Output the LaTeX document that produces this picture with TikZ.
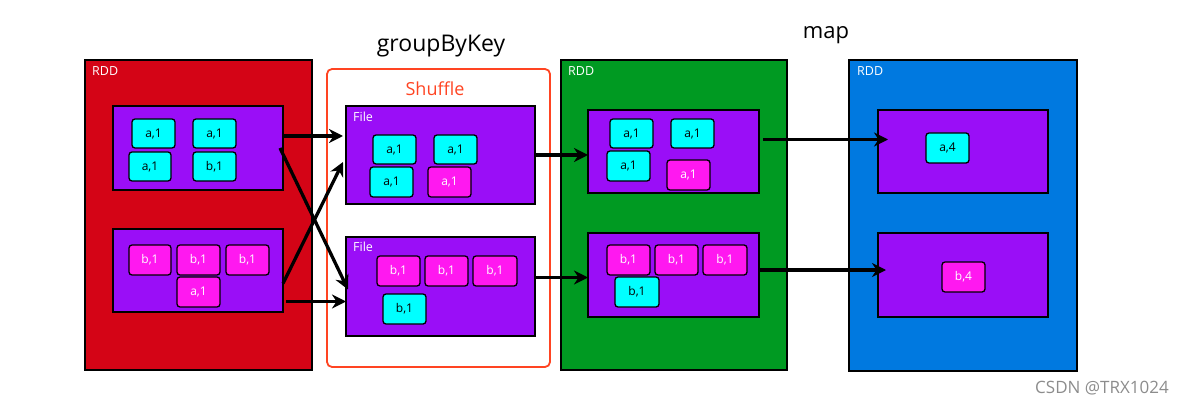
\documentclass[tikz,border=0pt]{standalone}
\usepackage{fontspec}
\setmainfont{Open Sans}
\usetikzlibrary{arrows.meta}
\definecolor{rddred}{HTML}{D40416}
\definecolor{rddgreen}{HTML}{009A22}
\definecolor{rddblue}{HTML}{0079E0}
\definecolor{part}{HTML}{9A0EF7}
\definecolor{kc}{HTML}{00FFFF}
\definecolor{km}{HTML}{FF18F0}
\definecolor{shuf}{HTML}{FF4422}
\newcommand\bx[7]{\node[#6, minimum width={#4-#2}, minimum height={#5-#3}] (#1) at ({(#2+#4)/2},{(#3+#5)/2}) {#7};}
\tikzset{
  rdd/.style={draw=black, line width=1.6pt, inner sep=0pt, outer sep=0pt},
  partbox/.style={draw=black, fill=part, line width=1.5pt, inner sep=0pt, outer sep=0pt},
  kvc/.style={draw=black, fill=kc, rounded corners=3pt, line width=1.3pt, inner sep=0pt, outer sep=0pt, font=\fontsize{12}{14}\selectfont, text=black},
  kvm/.style={draw=black, fill=km, rounded corners=3pt, line width=1.3pt, inner sep=0pt, outer sep=0pt, font=\fontsize{12}{14}\selectfont, text=white},
  lbl/.style={anchor=north west, inner sep=0pt, text=white, font=\fontsize{12.5}{14}\selectfont},
  arr/.style={draw=black, line width=3.3pt, -{Stealth[length=14pt,width=14pt]}},
}
\begin{document}
\begin{tikzpicture}[x=1pt,y=-1pt]
\useasboundingbox (0,0) rectangle (1191,406);
% titles
\node[font=\fontsize{23}{26}\selectfont, inner sep=0pt] (tgb) at (441,46) {groupByKey};
\node[font=\fontsize{22}{26}\selectfont, inner sep=0pt] (tmap) at (826,35) {map};
% red RDD
\bx{red}{85}{60}{312}{370}{rdd, fill=rddred}{}
\node[lbl] (redl) at (92,66) {RDD};
\bx{ru}{113}{106}{283}{190}{partbox}{}
\bx{r1}{132}{119}{175}{148}{kvc}{a,1}
\bx{r2}{193}{119}{236}{148}{kvc}{a,1}
\bx{r3}{129}{152}{171}{181}{kvc}{a,1}
\bx{r4}{193}{152}{236}{181}{kvc}{b,1}
\bx{rl}{113}{229}{283}{312}{partbox}{}
\bx{r5}{129}{245}{171}{275}{kvm}{b,1}
\bx{r6}{177}{245}{220}{275}{kvm}{b,1}
\bx{r7}{226}{245}{269}{275}{kvm}{b,1}
\bx{r8}{177}{277}{220}{307}{kvm}{a,1}
% shuffle
\bx{shf}{327}{69}{550}{367}{draw=shuf, line width=1.8pt, rounded corners=5pt, inner sep=0pt, outer sep=0pt}{}
\node[text=shuf, font=\fontsize{18}{21}\selectfont, inner sep=0pt] (shl) at (435,89) {Shuffle};
\bx{fu}{346}{106}{535}{204}{partbox}{}
\node[lbl] (ful) at (353,112) {File};
\bx{f1}{373}{135}{416}{164}{kvc}{a,1}
\bx{f2}{434}{135}{477}{164}{kvc}{a,1}
\bx{f3}{370}{167}{413}{197}{kvc}{a,1}
\bx{f4}{428}{167}{471}{197}{kvm}{a,1}
\bx{fl}{346}{237}{535}{336}{partbox}{}
\node[lbl] (fll) at (353,242) {File};
\bx{f5}{377}{256}{420}{286}{kvm}{b,1}
\bx{f6}{425}{256}{468}{286}{kvm}{b,1}
\bx{f7}{473}{256}{517}{286}{kvm}{b,1}
\bx{f8}{383}{294}{426}{324}{kvc}{b,1}
% green RDD
\bx{grn}{561}{60}{787}{370}{rdd, fill=rddgreen}{}
\node[lbl] (grnl) at (568,66) {RDD};
\bx{gu}{588}{110}{759}{193}{partbox}{}
\bx{g1}{610}{119}{653}{148}{kvc}{a,1}
\bx{g2}{671}{119}{714}{148}{kvc}{a,1}
\bx{g3}{607}{151}{650}{181}{kvc}{a,1}
\bx{g4}{667}{160}{710}{190}{kvm}{a,1}
\bx{gl}{588}{233}{759}{317}{partbox}{}
\bx{g5}{607}{245}{650}{275}{kvm}{b,1}
\bx{g6}{655}{245}{698}{275}{kvm}{b,1}
\bx{g7}{703}{245}{747}{275}{kvm}{b,1}
\bx{g8}{615}{277}{659}{307}{kvc}{b,1}
% blue RDD
\bx{blu}{849}{60}{1077}{371}{rdd, fill=rddblue}{}
\node[lbl] (blul) at (857,66) {RDD};
\bx{bu}{878}{110}{1048}{193}{partbox}{}
\bx{b1}{926}{133}{969}{163}{kvc}{a,4}
\bx{bl}{878}{233}{1048}{317}{partbox}{}
\bx{b2}{942}{262}{985}{292}{kvm}{b,4}
% arrows
\draw[arr] ([yshift=12pt]ru.east) -- ([yshift=12pt,xshift=-3pt]ru.east -| fu.west);
\draw[arr] ([xshift=-3pt]ru.east) -- ([xshift=2pt,yshift=-3pt]fl.west);
\draw[arr] ([yshift=-13pt]rl.east) -- ([xshift=-3pt,yshift=-7pt]fu.west);
\draw[arr] ([yshift=-31pt,xshift=3pt]rl.east) -- ([yshift=-31pt]rl.east -| fl.west);
\draw[arr] (fu.east) -- (fu.east -| gu.west);
\draw[arr] ([yshift=9pt]fl.east) -- ([yshift=9pt]fl.east -| gl.west);
\draw[arr] ([yshift=12pt,xshift=4pt]gu.east) -- ([yshift=12pt,xshift=10pt]gu.east -| bu.west);
\draw[arr] ([yshift=5pt]gl.east) -- ([yshift=5pt,xshift=8pt]gl.east -| bl.west);
% watermark
\node[text=black!45, font=\fontsize{17}{19}\selectfont, inner sep=0pt] (wm) at (1102,388) {CSDN @TRX1024};
\end{tikzpicture}
\end{document}
